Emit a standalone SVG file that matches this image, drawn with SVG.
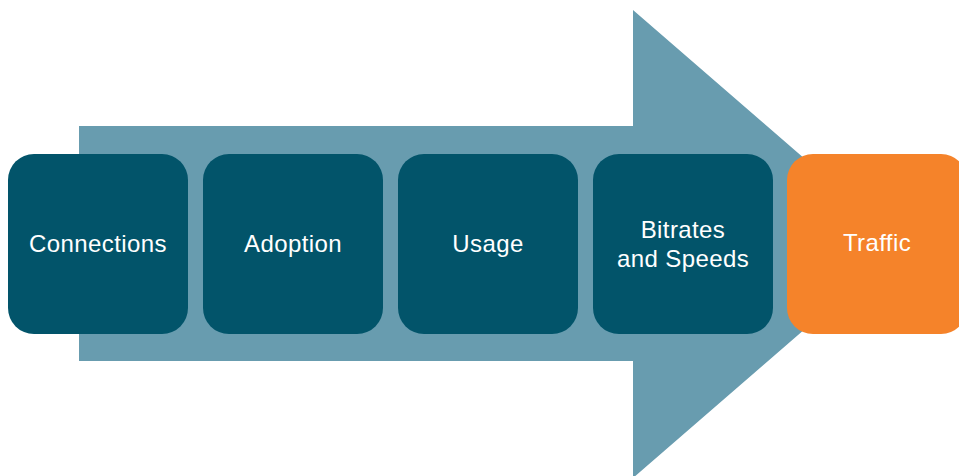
<svg xmlns="http://www.w3.org/2000/svg" width="959" height="476" viewBox="0 0 959 476">
<style>
.box{fill:#02546a}
.hl{fill:#f5832a}
.lbl{fill:#ffffff;font-family:"Liberation Sans",Arial,sans-serif;font-size:24px;text-anchor:middle;letter-spacing:0.4px}
</style>
<rect width="959" height="476" fill="#ffffff"/>
<g id="connectors">
<path d="M79 126 H633 V10 L903 244 L633 478 V361 H79 Z" fill="#689caf"/>
</g>
<g id="connections"><rect class="box" x="8" y="154" width="180" height="180" rx="26"/><text class="lbl" x="98" y="252">Connections</text></g>
<g id="adoption"><rect class="box" x="203" y="154" width="180" height="180" rx="26"/><text class="lbl" x="293" y="252">Adoption</text></g>
<g id="usage"><rect class="box" x="398" y="154" width="180" height="180" rx="26"/><text class="lbl" x="488" y="252">Usage</text></g>
<g id="bitrates"><rect class="box" x="593" y="154" width="180" height="180" rx="26"/><text class="lbl" x="683" y="238">Bitrates</text><text class="lbl" x="683" y="267">and Speeds</text></g>
<g id="traffic"><rect class="hl" x="787" y="154" width="180" height="180" rx="26"/><text class="lbl" x="877" y="251">Traffic</text></g>
</svg>
